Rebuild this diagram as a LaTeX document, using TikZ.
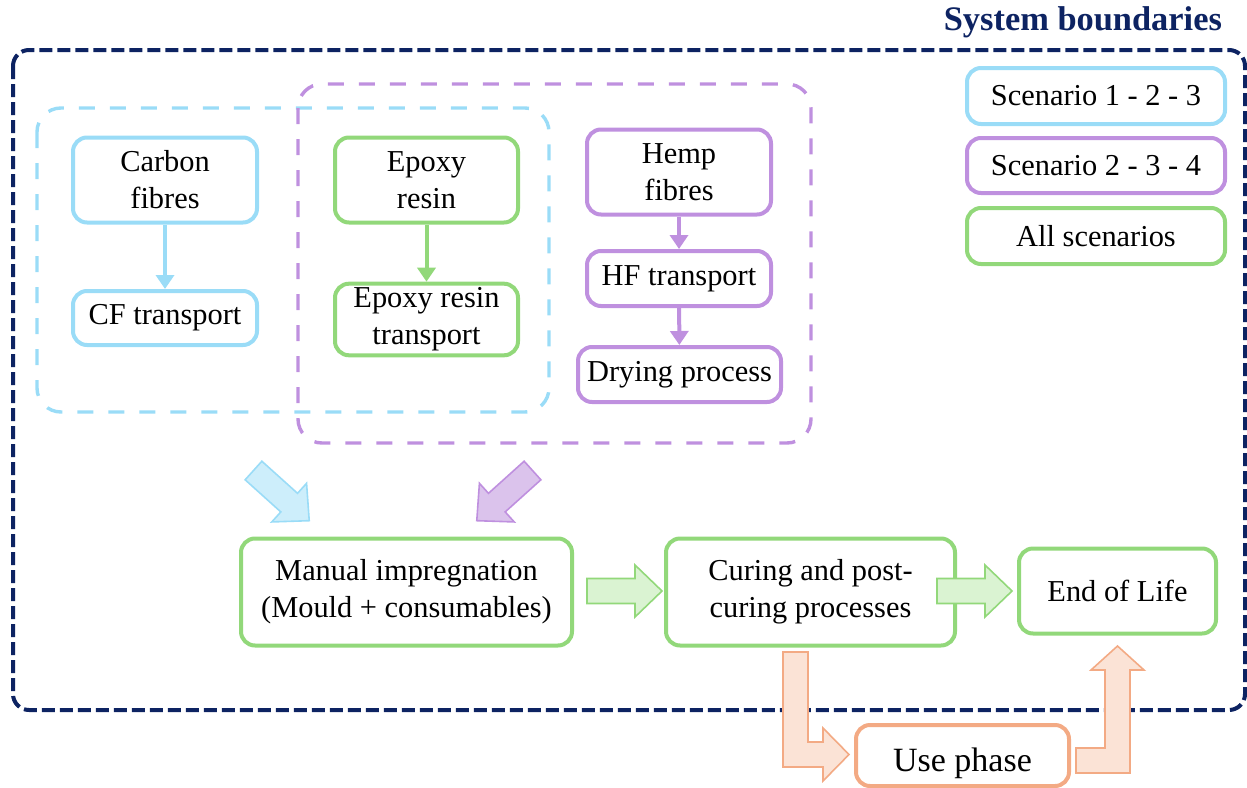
\documentclass[tikz,border=0pt]{standalone}
\usepackage{fontspec}
\setmainfont{Liberation Serif}
\usetikzlibrary{arrows.meta,positioning,calc}
\definecolor{sysnavy}{HTML}{0D2362}
\definecolor{sky}{HTML}{9ADCF7}
\definecolor{skyfill}{HTML}{CDEEFB}
\definecolor{lilac}{HTML}{BF90DF}
\definecolor{lilacfill}{HTML}{DBC3EC}
\definecolor{leaf}{HTML}{92D87A}
\definecolor{leaffill}{HTML}{DAF3D2}
\definecolor{peach}{HTML}{F3AA84}
\definecolor{peachfill}{HTML}{FBE3D6}
\tikzset{
  proc/.style={draw,line width=2pt,rounded corners=7pt,align=center,fill=white,
    inner sep=2pt,font=\fontsize{15.2}{18.5}\selectfont},
  skybox/.style={proc,draw=sky},
  lilacbox/.style={proc,draw=lilac},
  leafbox/.style={proc,draw=leaf},
  peachbox/.style={proc,draw=peach},
  flow/.style={-{Triangle[length=7pt,width=9pt]},line width=2pt},
  group/.style={dash pattern=on 8pt off 7.5pt,line width=1.7pt,rounded corners=12pt},
  bigarrow/.style={line width=0.8pt,line join=miter},
  blockarrow/.pic={\draw[pic actions] (0,-12.5) -- (48,-12.5) -- (48,-26) -- (75,0)
    -- (48,26) -- (48,12.5) -- (0,12.5) -- cycle;}
}

\begin{document}
\begin{tikzpicture}[x=0.5pt,y=-0.5pt]
\useasboundingbox (0,0) rectangle (1247,787);
\draw[sysnavy,line width=2pt,dash pattern=on 6.5pt off 2.5pt,rounded corners=8pt]
  (13,50) rectangle (1245,710);
\node[anchor=east,text=sysnavy,font=\fontsize{17.2}{20}\selectfont\bfseries] (title) at (1229,22) {System boundaries};

\draw[group,sky] (37,108) rectangle (549,412);
\draw[group,lilac] (298,84) rectangle (811,443);

\node[skybox,minimum width=92pt,minimum height=42.5pt] (carbon) at (165,180) {Carbon\\fibres};
\node[skybox,minimum width=92pt,minimum height=27pt] (cft) at (165,318) {CF transport};
\node[leafbox,minimum width=91.5pt,minimum height=42.5pt] (epoxy) at (426.5,180) {Epoxy\\resin};
\node[leafbox,minimum width=91.5pt,minimum height=33.5pt] (ert) at (426.5,319.5) {Epoxy resin\\transport};
\node[lilacbox,minimum width=92pt,minimum height=42.5pt] (hemp) at (679,172) {Hemp\\fibres};
\node[lilacbox,minimum width=92pt,minimum height=27.5pt] (hft) at (679,278.5) {HF transport};
\node[lilacbox,minimum width=101.5pt,minimum height=27.5pt] (dry) at (679.5,374.5) {Drying process};

\draw[flow,sky] (carbon) -- (cft);
\draw[flow,leaf] (epoxy) -- (ert);
\draw[flow,lilac] (hemp) -- (hft);
\draw[flow,lilac] (hft) -- (dry);

\node[skybox,minimum width=129pt,minimum height=28pt] (leg1) at (1096,96) {Scenario 1 - 2 - 3};
\node[lilacbox,minimum width=129pt,minimum height=27.5pt] (leg2) at (1096,165.5) {Scenario 2 - 3 - 4};
\node[leafbox,minimum width=129pt,minimum height=28pt] (leg3) at (1096,236) {All scenarios};

\node[leafbox,minimum width=165.5pt,minimum height=53.5pt] (manual) at (406.5,592) {Manual impregnation\\(Mould + consumables)};
\node[leafbox,minimum width=144.5pt,minimum height=53.5pt] (cure) at (810.5,592) {Curing and post-\\curing processes};
\node[leafbox,minimum width=98.5pt,minimum height=42.5pt] (eol) at (1117.5,591) {End of Life};
\node[peachbox,minimum width=106.5pt,minimum height=30.5pt,text height=16pt,text depth=0pt,
  font=\fontsize{17}{20}\selectfont] (use) at (962.5,755.5) {Use phase};

\pic[bigarrow,draw=sky,fill=skyfill,rotate=-42] at (253.5,470.5) {blockarrow};
\pic[bigarrow,draw=lilac,fill=lilacfill,rotate=-138] at (532.5,470.5) {blockarrow};
\pic[bigarrow,draw=leaf,fill=leaffill] at (587,591) {blockarrow};
\pic[bigarrow,draw=leaf,fill=leaffill] at (937,591) {blockarrow};

\draw[bigarrow,draw=peach,fill=peachfill] (783,652) -- (808,652) -- (808,742) -- (823,742)
  -- (823,728) -- (849,754.5) -- (823,781) -- (823,767) -- (783,767) -- cycle;
\draw[bigarrow,draw=peach,fill=peachfill] (1076,748) -- (1105,748) -- (1105,670) -- (1091,670)
  -- (1117.5,646) -- (1144,670) -- (1130,670) -- (1130,773) -- (1076,773) -- cycle;
\end{tikzpicture}
\end{document}
